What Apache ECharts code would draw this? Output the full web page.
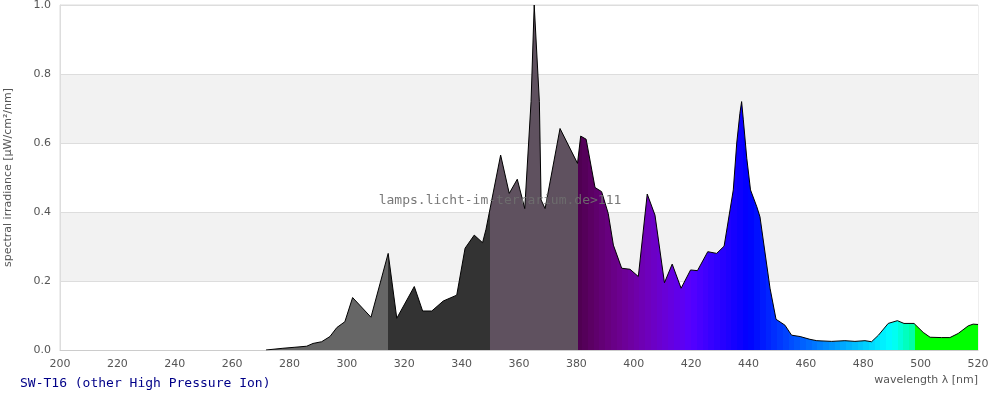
<!DOCTYPE html>
<html>
<head>
<meta charset="utf-8">
<title>SW-T16 spectrum</title>
<script src="https://cdn.jsdelivr.net/npm/echarts@6/dist/echarts.min.js"></script>
<style>
  html, body { margin: 0; padding: 0; background: #fff; }
  #chart { width: 1000px; height: 400px; }
</style>
</head>
<body>
<div id="chart"></div>
<script>
// wavelength [nm] and spectral irradiance [µW/cm²/nm]
const wavelengths = [
  271.8, 277.7, 281.9, 286.0, 288.2, 291.2, 294.1, 296.5, 299.3, 302.0,
  308.4, 314.4, 317.4, 323.5, 326.4, 329.6, 333.6, 338.3, 341.2, 344.4,
  347.3, 348.5, 353.6, 356.6, 359.4, 362.0, 364.2, 365.3, 367.1, 367.7,
  369.1, 374.3, 380.4, 381.5, 383.4, 386.5, 388.8, 391.1, 392.9, 395.8,
  398.7, 401.6, 404.7, 407.4, 410.7, 413.4, 416.5, 419.8, 422.2, 425.8,
  428.9, 431.5, 434.7, 435.9, 437.0, 437.6, 438.2, 439.4, 440.7, 442.9,
  444.0, 447.5, 449.6, 452.7, 455.0, 458.0, 461.4, 463.8, 469.0, 473.6,
  477.1, 480.6, 482.9, 485.3, 488.7, 491.9, 494.2, 497.7, 500.9, 503.3,
  507.3, 510.2, 513.1, 516.6, 518.3, 520.0
]
const irradiance = [
  0.000, 0.005, 0.008, 0.011, 0.019, 0.024, 0.039, 0.065, 0.082, 0.152,
  0.095, 0.280, 0.092, 0.184, 0.113, 0.113, 0.142, 0.159, 0.295, 0.333,
  0.311, 0.350, 0.565, 0.454, 0.495, 0.410, 0.720, 1.000, 0.720, 0.435,
  0.410, 0.642, 0.541, 0.620, 0.611, 0.471, 0.459, 0.396, 0.304, 0.237,
  0.234, 0.213, 0.452, 0.391, 0.195, 0.249, 0.179, 0.232, 0.230, 0.285,
  0.280, 0.301, 0.464, 0.600, 0.686, 0.720, 0.667, 0.556, 0.464, 0.415,
  0.386, 0.179, 0.089, 0.072, 0.043, 0.039, 0.031, 0.027, 0.025, 0.027,
  0.025, 0.027, 0.024, 0.043, 0.077, 0.085, 0.077, 0.077, 0.051, 0.037,
  0.036, 0.036, 0.048, 0.070, 0.075, 0.074
]
const xTicks = { min: 200, max: 520, step: 20 }
const yTicks = { min: 0, max: 1, step: 0.2 }

const lampName = 'SW-T16 (other High Pressure Ion)'
const watermark = 'lamps.licht-im-terrarium.de>111'

// colour of the fill below the curve, by wavelength
// UV part is drawn in greys, visible part in the spectral colour
const spectrumPieces = [
  { min: 200, max: 314.3, color: '#666666' },
  { min: 314.3, max: 350, color: '#333333' },
  { min: 350, max: 380.4, color: '#5f515f' }
]

const wavelengthColor = (l) => {
  let r = 0, g = 0, b = 0
  if (l < 440) { r = (440 - l) / 60; b = 1 }
  else if (l < 490) { g = (l - 440) / 50; b = 1 }
  else { g = 1; b = (510 - l) / 20 }
  let f = 1
  if (l < 420) f = 0.3 + 0.7 * (l - 380) / 40
  const hex = (v) => Math.round(Math.max(0, Math.min(1, v)) * f * 255).toString(16).padStart(2, '0')
  return '#' + hex(r) + hex(g) + hex(b)
}

let edge = 380.4
while (edge < 498) {
  const next = Math.min(498, Math.floor(edge / 2) * 2 + 2)
  spectrumPieces.push({ min: edge, max: next, color: wavelengthColor((edge + next) / 2) })
  edge = next
}
spectrumPieces.push({ min: 498, max: 520, color: '#00ff00' })

const points = wavelengths.map((w, i) => [w, irradiance[i]])

const chart = echarts.init(document.getElementById('chart'))

const option = {
  animation: false,
  textStyle: { fontFamily: 'DejaVu Sans' },
  grid: {
    left: 60,
    right: 22,
    top: 5,
    bottom: 50,
    outerBoundsMode: 'none',
    containLabel: false,
    show: true,
    borderColor: '#dddddd',
    borderWidth: 1
  },
  visualMap: {
    show: false,
    type: 'piecewise',
    seriesIndex: 0,
    dimension: 0,
    pieces: spectrumPieces
  },
  xAxis: {
    type: 'value',
    min: xTicks.min,
    max: xTicks.max,
    interval: xTicks.step,
    axisLine: { lineStyle: { color: '#cccccc' } },
    axisTick: { show: false },
    splitLine: { show: false },
    axisLabel: { color: '#555', fontSize: 11, margin: 9 }
  },
  yAxis: {
    type: 'value',
    min: yTicks.min,
    max: yTicks.max,
    interval: yTicks.step,
    name: 'spectral irradiance [µW/cm²/nm]',
    nameLocation: 'middle',
    nameGap: 46,
    nameTextStyle: { color: '#555', fontSize: 11 },
    axisLine: { show: true, lineStyle: { color: '#dddddd' } },
    axisTick: { show: false },
    axisLabel: { color: '#555', fontSize: 11, margin: 9, formatter: (v) => v.toFixed(1) },
    splitLine: { lineStyle: { color: '#dddddd' } },
    splitArea: { show: true, areaStyle: { color: ['#ffffff', '#f2f2f2'] } }
  },
  series: [
    {
      // coloured fill
      type: 'line',
      data: points,
      showSymbol: false,
      lineStyle: { width: 0 },
      areaStyle: { opacity: 1 },
      z: 2
    },
    {
      // black outline
      type: 'line',
      data: points,
      showSymbol: false,
      lineStyle: { color: '#000000', width: 1 },
      z: 3
    }
  ],
  graphic: [
    {
      type: 'text',
      left: 'center',
      top: 194,
      z: 100,
      style: {
        text: watermark,
        fill: 'rgba(110,110,110,0.93)',
        font: '13px "DejaVu Sans Mono"'
      }
    },
    {
      type: 'text',
      right: 22,
      top: 375,
      style: {
        text: 'wavelength λ [nm]',
        fill: '#555',
        font: '11px "DejaVu Sans"'
      }
    },
    {
      type: 'text',
      left: 20,
      top: 377,
      style: {
        text: lampName,
        fill: '#000088',
        font: '13px "DejaVu Sans Mono"'
      }
    }
  ]
}

chart.setOption(option)
window.addEventListener('resize', () => chart.resize())
</script>
</body>
</html>
